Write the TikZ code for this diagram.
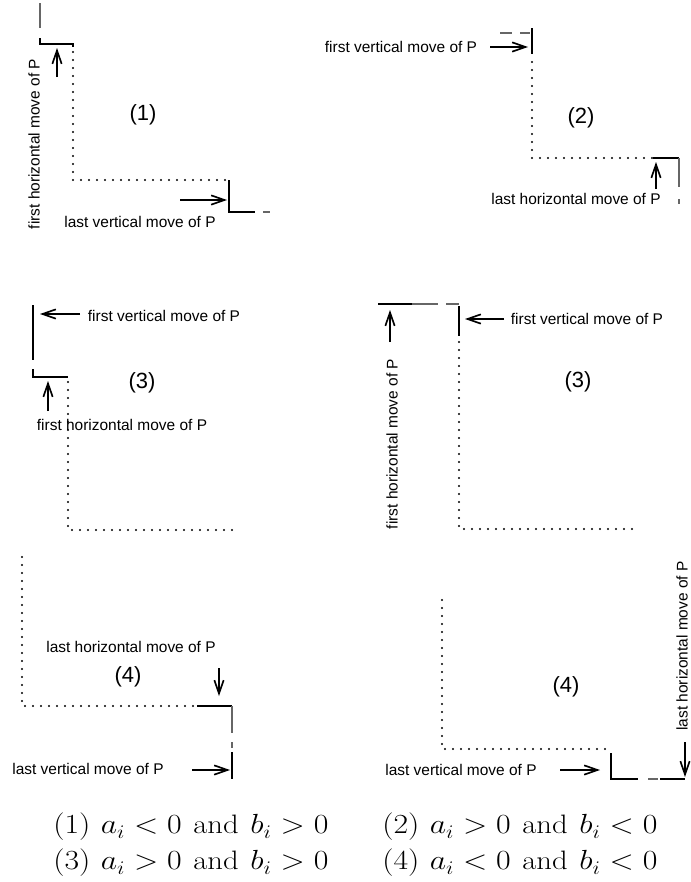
\documentclass[tikz,border=0pt]{standalone}
\usepackage{graphicx}
\usepackage{fontspec}
\newfontfamily\labelsans{Liberation Sans}
\usetikzlibrary{arrows.meta}
\newcommand\condwide[1]{\scalebox{1.15}[1]{#1}}
\begin{document}
\begin{tikzpicture}[x=0.75pt,y=-0.75pt,
  pathseg/.style={line width=1.4pt,black},
  faint/.style={line width=0.9pt,black!60},
  dots/.style={line width=1.7pt,dash pattern=on 0pt off 6pt,line cap=round},
  pointer/.style={line width=1.25pt,-{Straight Barb[length=10pt,width=7pt,line width=1.25pt]}},
  lab/.style={inner sep=0pt,font=\labelsans\fontsize{11.6}{13}\selectfont},
  num/.style={inner sep=0pt,font=\labelsans\fontsize{16.5}{19}\selectfont},
  condtext/.style={inner sep=0pt,anchor=west,font=\fontsize{20}{24}\selectfont}]
\useasboundingbox (0,0) rectangle (690,882);

% ---------- case (1) ----------
\draw[faint] (40,3) -- (40,28);
\draw[pathseg] (40,38) -- (40,44) -- (73,44) -- (73,47);
\draw[dots] (73,52) -- (73,180) -- (228,180);
\draw[pathseg] (229,180) -- (229,212) -- (255,212);
\draw[faint] (263,212) -- (270,212);
\coordinate (a1s) at (57,77); \coordinate (a1e) at (57,48);
\draw[pointer] (a1s) -- (a1e);
\coordinate (b1s) at (180,200); \coordinate (b1e) at (227,200);
\draw[pointer] (b1s) -- (b1e);
\node[lab,rotate=90] (l1a) at (34,144) {first horizontal move of P};
\node[lab] (l1b) at (140,222) {last vertical move of P};
\node[num] (n1) at (143,115) {(1)};

% ---------- case (2) ----------
\draw[faint] (500,33) -- (512,33);
\draw[faint] (520,33) -- (530,33);
\draw[pathseg] (532,28) -- (532,54);
\draw[dots] (532,62) -- (532,158) -- (652,158);
\draw[pathseg] (653,158) -- (679,158);
\draw[faint] (679,158) -- (679,187);
\draw[faint] (679,199) -- (679,204);
\coordinate (a2s) at (490,47); \coordinate (a2e) at (528,47);
\draw[pointer] (a2s) -- (a2e);
\coordinate (b2s) at (656,189); \coordinate (b2e) at (656,162);
\draw[pointer] (b2s) -- (b2e);
\node[lab] (l2a) at (401,47) {first vertical move of P};
\node[lab] (l2b) at (576,199) {last horizontal move of P};
\node[num] (n2) at (581,118) {(2)};

% ---------- case (3), left ----------
\draw[pathseg] (33,305) -- (33,360);
\draw[pathseg] (33,369) -- (33,377) -- (68,377);
\draw[dots] (68,382) -- (68,530) -- (235,530);
\coordinate (a3s) at (80,314); \coordinate (a3e) at (40,314);
\draw[pointer] (a3s) -- (a3e);
\coordinate (b3s) at (48,411); \coordinate (b3e) at (48,381);
\draw[pointer] (b3s) -- (b3e);
\node[lab] (l3a) at (164,316) {first vertical move of P};
\node[lab] (l3b) at (122,425) {first horizontal move of P};
\node[num] (n3) at (142,383) {(3)};

% ---------- case (3), right ----------
\draw[pathseg] (378,304) -- (412,304);
\draw[faint] (412,304) -- (438,304);
\draw[faint] (446,304) -- (459,304);
\draw[pathseg] (459,306) -- (459,336);
\draw[dots] (459,342) -- (459,529) -- (633,529);
\coordinate (c3s) at (504,319); \coordinate (c3e) at (465,319);
\draw[pointer] (c3s) -- (c3e);
\coordinate (d3s) at (390,342); \coordinate (d3e) at (390,310);
\draw[pointer] (d3s) -- (d3e);
\node[lab] (l3c) at (587,319) {first vertical move of P};
\node[lab,rotate=90] (l3d) at (392,444) {first horizontal move of P};
\node[num] (n3r) at (578,382) {(3)};

% ---------- case (4), left ----------
\draw[dots] (22,557) -- (22,706) -- (193,706);
\draw[pathseg] (197,706) -- (232,706);
\draw[faint] (232,706) -- (232,733);
\draw[faint] (232,742) -- (232,748);
\draw[pathseg] (232,752) -- (232,779);
\coordinate (a4s) at (219,668); \coordinate (a4e) at (219,696);
\draw[pointer] (a4s) -- (a4e);
\coordinate (b4s) at (192,770); \coordinate (b4e) at (230,770);
\draw[pointer] (b4s) -- (b4e);
\node[lab] (l4a) at (131,647) {last horizontal move of P};
\node[lab] (l4b) at (88,769) {last vertical move of P};
\node[num] (n4) at (128,677) {(4)};

% ---------- case (4), right ----------
\draw[dots] (442,600) -- (442,749) -- (612,749);
\draw[pathseg] (611,753) -- (611,779) -- (638,779);
\draw[faint] (648,779) -- (658,779);
\draw[pathseg] (660,779) -- (685,779);
\coordinate (c4s) at (685,742); \coordinate (c4e) at (685,777);
\draw[pointer] (c4s) -- (c4e);
\coordinate (d4s) at (560,770); \coordinate (d4e) at (600,770);
\draw[pointer] (d4s) -- (d4e);
\node[lab,rotate=90] (l4c) at (682,646) {last horizontal move of P};
\node[lab] (l4d) at (461,770) {last vertical move of P};
\node[num] (n4r) at (566,687) {(4)};

% ---------- sign conditions ----------
\node[condtext] (k1) at (53,827)
  {\condwide{$(1)$\hspace{0.34em}$a_i<0$\hspace{0.38em}and\hspace{0.38em}$b_i>0$}};
\node[condtext] (k2) at (382,827)
  {\condwide{$(2)$\hspace{0.34em}$a_i>0$\hspace{0.38em}and\hspace{0.38em}$b_i<0$}};
\node[condtext] (k3) at (53,863)
  {\condwide{$(3)$\hspace{0.34em}$a_i>0$\hspace{0.38em}and\hspace{0.38em}$b_i>0$}};
\node[condtext] (k4) at (382,863)
  {\condwide{$(4)$\hspace{0.34em}$a_i<0$\hspace{0.38em}and\hspace{0.38em}$b_i<0$}};
\end{tikzpicture}
\end{document}
